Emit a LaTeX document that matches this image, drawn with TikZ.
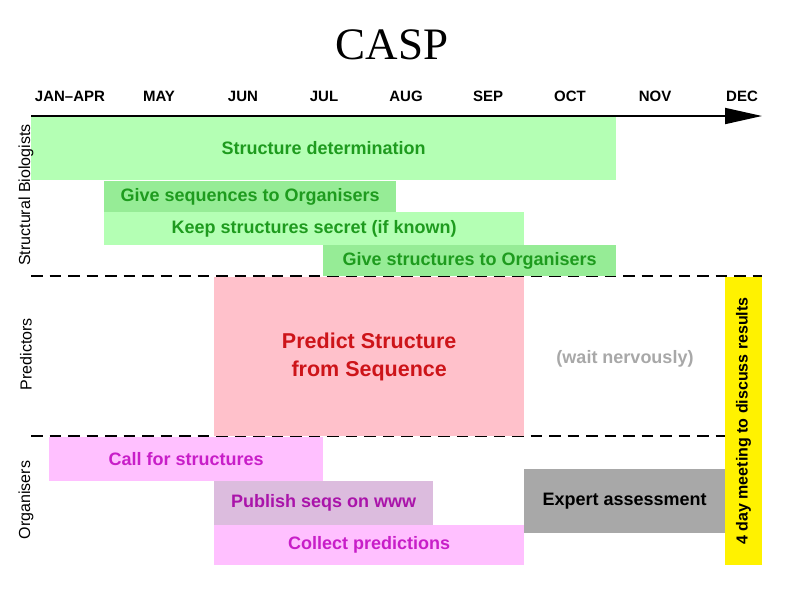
\documentclass[tikz,border=0pt]{standalone}
\usepackage{fontspec}
\setmainfont{Liberation Sans}
\newfontfamily\titlefont{Liberation Serif}
\usetikzlibrary{arrows.meta}

\begin{document}
\begin{tikzpicture}[x=1pt, y=-1pt, bar/.style={anchor=north west, inner sep=0pt, align=center, font=\fontsize{18}{20}\bfseries\selectfont}, month/.style={font=\fontsize{15}{16}\bfseries\selectfont}, group/.style={rotate=90, font=\fontsize{16}{18}\selectfont}, divider/.style={line width=2.6pt, dash pattern=on 11.5pt off 7pt}, timeline/.style={line width=1.8pt, -{Triangle[length=37pt, width=16pt]}}]
\definecolor{caspLeaf}{RGB}{180,255,180}
\definecolor{caspMoss}{RGB}{150,236,150}
\definecolor{caspGreen}{RGB}{30,155,30}
\definecolor{caspRose}{RGB}{255,193,203}
\definecolor{caspRed}{RGB}{205,20,25}
\definecolor{caspLilac}{RGB}{255,192,255}
\definecolor{caspMauve}{RGB}{220,188,222}
\definecolor{caspPurple}{RGB}{200,30,200}
\definecolor{caspPlum}{RGB}{170,20,170}
\definecolor{caspGrey}{RGB}{168,168,168}
\useasboundingbox (0,0) rectangle (794,595);
% title and months
\node[font=\titlefont\fontsize{45}{48}\selectfont] (title) at (392,45) {CASP};
\node[month] (janapr) at (70,96) {JAN--APR};
\node[month] (may) at (159,96) {MAY};
\node[month] (jun) at (243,96) {JUN};
\node[month] (jul) at (324,96) {JUL};
\node[month] (aug) at (406,96) {AUG};
\node[month] (sep) at (488,96) {SEP};
\node[month] (oct) at (570,96) {OCT};
\node[month] (nov) at (655,96) {NOV};
\node[month] (dec) at (742,96) {DEC};
% group separators
\coordinate (sepA) at (31,276);
\coordinate (sepB) at (762,276);
\coordinate (sepC) at (31,436);
\coordinate (sepD) at (725,436);
\draw[divider] (sepA) -- (sepB);
\draw[divider] (sepC) -- (sepD);
% structural biologists
\node[bar, fill=caspLeaf, text=caspGreen, minimum width=585pt, minimum height=64pt] (determine) at (31,116) {Structure determination};
\node[bar, fill=caspMoss, text=caspGreen, minimum width=292pt, minimum height=31pt] (giveseq) at (104,181) {Give sequences to Organisers};
\node[bar, fill=caspLeaf, text=caspGreen, minimum width=420pt, minimum height=33pt] (secret) at (104,212) {Keep structures secret (if known)};
\node[bar, fill=caspMoss, text=caspGreen, minimum width=293pt, minimum height=31pt] (givestruct) at (323,245) {Give structures to Organisers};
% predictors
\node[bar, fill=caspRose, text=caspRed, minimum width=310pt, minimum height=159pt, font=\fontsize{21.5}{28}\bfseries\selectfont] (predict) at (214,277) {Predict Structure\\from Sequence};
\node[font=\fontsize{18}{20}\bfseries\selectfont, text=caspGrey] (wait) at (625,359) {(wait nervously)};
% organisers
\node[bar, fill=caspLilac, text=caspPurple, minimum width=274pt, minimum height=44pt] (callfor) at (49,437) {Call for structures};
\node[bar, fill=caspMauve, text=caspPlum, minimum width=219pt, minimum height=44pt] (publish) at (214,481) {Publish seqs on www};
\node[bar, fill=caspLilac, text=caspPurple, minimum width=310pt, minimum height=40pt] (collect) at (214,525) {Collect predictions};
\node[bar, fill=caspGrey, text=black, minimum width=201pt, minimum height=64pt] (expert) at (524,469) {Expert assessment};
\node[rotate=90, fill=yellow, inner sep=0pt, minimum width=288pt, minimum height=37pt, font=\fontsize{16}{18}\bfseries\selectfont] (meeting) at (743.5,421) {4 day meeting to discuss results};
% time axis
\coordinate (start) at (31,116);
\coordinate (finish) at (762,116);
\draw[timeline] (start) -- (finish);
% group names
\node[group] (biologists) at (26,195) {Structural Biologists};
\node[group] (predictors) at (26,354) {Predictors};
\node[group] (organisers) at (26,500) {Organisers};
\end{tikzpicture}
\end{document}
